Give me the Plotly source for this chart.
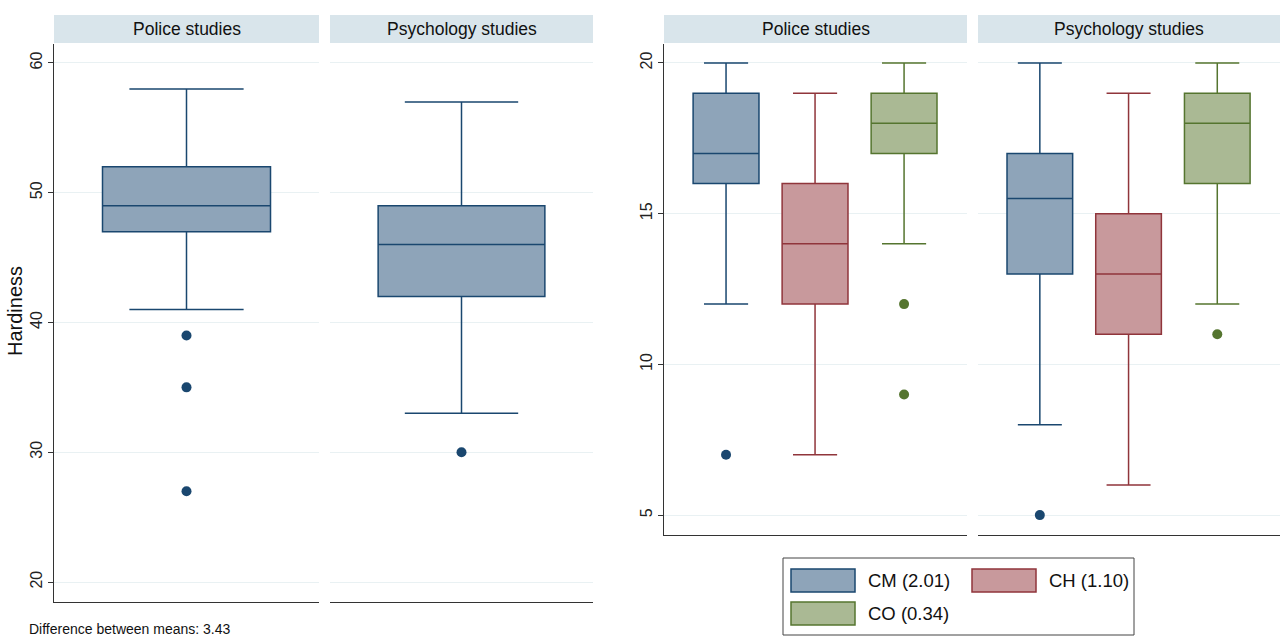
import plotly.graph_objects as go

# ---------------- data ----------------
panels = ["Police studies", "Psychology studies"]

# Left: Hardiness by study type
hard_q1 = [47, 42]
hard_med = [49, 46]
hard_q3 = [52, 49]
hard_lo = [41, 33]
hard_hi = [58, 57]
hard_out = [[39, 35, 27], [30]]

# Right: CM / CH / CO by study type
groups = ["CM", "CH", "CO"]
group_labels = ["CM (2.01)", "CH (1.10)", "CO (0.34)"]
sub_q1 = {"CM": [16, 13], "CH": [12, 11], "CO": [17, 16]}
sub_med = {"CM": [17, 15.5], "CH": [14, 13], "CO": [18, 18]}
sub_q3 = {"CM": [19, 17], "CH": [16, 15], "CO": [19, 19]}
sub_lo = {"CM": [12, 8], "CH": [7, 6], "CO": [14, 12]}
sub_hi = {"CM": [20, 20], "CH": [19, 19], "CO": [20, 20]}
sub_out = {"CM": [[7], [5]], "CH": [[], []], "CO": [[12, 9], [11]]}

note_text = "Difference between means: 3.43"
y_title = "Hardiness"
left_ticks = [20, 30, 40, 50, 60]
right_ticks = [5, 10, 15, 20]

# ---------------- style ----------------
W, H = 1280, 637
line_col = {"CM": "#1a476f", "CH": "#90353b", "CO": "#55752f"}
fill_col = {"CM": "#8ea4b9", "CH": "#c8999c", "CO": "#aab994"}
strip_bg = "#d9e5eb"
grid_col = "#e9f1f3"
axis_col = "#333333"
narrow = "Liberation Sans Narrow, Arial Narrow, Liberation Sans, Arial"
reg = "Liberation Sans, Arial, Helvetica"

def px(x):
    return x / W

def py(y):
    return 1 - y / H

fig = go.Figure()

left_axes = [("x", "y"), ("x2", "y2")]
right_axes = [("x3", "y3"), ("x4", "y4")]

for i, (xa, ya) in enumerate(left_axes):
    fig.add_trace(go.Box(
        x=[0], q1=[hard_q1[i]], median=[hard_med[i]], q3=[hard_q3[i]],
        lowerfence=[hard_lo[i]], upperfence=[hard_hi[i]],
        width=0.634, whiskerwidth=0.68,
        fillcolor=fill_col["CM"], line=dict(color=line_col["CM"], width=1.5),
        boxpoints=False, showlegend=False, xaxis=xa, yaxis=ya, hoverinfo="skip"))
    fig.add_trace(go.Scatter(
        x=[0] * len(hard_out[i]), y=hard_out[i], mode="markers",
        marker=dict(color=line_col["CM"], size=10), showlegend=False,
        xaxis=xa, yaxis=ya))

for i, (xa, ya) in enumerate(right_axes):
    for j, g in enumerate(groups):
        pos = j + 1
        fig.add_trace(go.Box(
            x=[pos], q1=[sub_q1[g][i]], median=[sub_med[g][i]], q3=[sub_q3[g][i]],
            lowerfence=[sub_lo[g][i]], upperfence=[sub_hi[g][i]],
            width=0.74, whiskerwidth=0.67,
            fillcolor=fill_col[g], line=dict(color=line_col[g], width=1.5),
            boxpoints=False, showlegend=False, xaxis=xa, yaxis=ya, hoverinfo="skip"))
        if sub_out[g][i]:
            fig.add_trace(go.Scatter(
                x=[pos] * len(sub_out[g][i]), y=sub_out[g][i], mode="markers",
                marker=dict(color=line_col[g], size=10), showlegend=False,
                xaxis=xa, yaxis=ya))

left_x = [(54, 319), (330, 593)]
right_x = [(664, 967), (978, 1280)]
left_y = (44, 602)
right_y = (44, 535)

ycommon = dict(showgrid=True, gridcolor=grid_col, gridwidth=1, zeroline=False,
               tickangle=-90, ticklen=5, tickcolor=axis_col,
               tickfont=dict(family=reg, size=16, color="#222"))
xcommon = dict(showgrid=False, zeroline=False, showticklabels=False, showline=True,
               linecolor=axis_col, linewidth=1, ticks="", fixedrange=True)

fig.update_layout(
    width=W, height=H, margin=dict(l=0, r=0, t=0, b=0),
    plot_bgcolor="white", paper_bgcolor="white", boxmode="overlay",
    showlegend=False,
    xaxis=dict(domain=[px(left_x[0][0]), px(left_x[0][1])], range=[-0.5, 0.5], anchor="y", **xcommon),
    xaxis2=dict(domain=[px(left_x[1][0]), px(left_x[1][1])], range=[-0.5, 0.5], anchor="y2", **xcommon),
    xaxis3=dict(domain=[px(right_x[0][0]), px(right_x[0][1])], range=[0.303, 3.707], anchor="y3", **xcommon),
    xaxis4=dict(domain=[px(right_x[1][0]), px(right_x[1][1])], range=[0.303, 3.707], anchor="y4", **xcommon),
    yaxis=dict(domain=[py(left_y[1]), py(left_y[0])], range=[18.46, 61.46], anchor="x",
               tickvals=left_ticks, showline=True, linecolor=axis_col, linewidth=1, ticks="outside",
               **ycommon),
    yaxis2=dict(domain=[py(left_y[1]), py(left_y[0])], range=[18.46, 61.46], anchor="x2",
                tickvals=left_ticks, showline=False, showticklabels=False, ticks="", **ycommon),
    yaxis3=dict(domain=[py(right_y[1]), py(right_y[0])], range=[4.34, 20.63], anchor="x3",
                tickvals=right_ticks, showline=True, linecolor=axis_col, linewidth=1, ticks="outside",
                **ycommon),
    yaxis4=dict(domain=[py(right_y[1]), py(right_y[0])], range=[4.34, 20.63], anchor="x4",
                tickvals=right_ticks, showline=False, showticklabels=False, ticks="", **ycommon),
)

shapes = []
annotations = []
for (x0, x1), title in zip(left_x + right_x, panels + panels):
    shapes.append(dict(type="rect", xref="paper", yref="paper", x0=px(x0), x1=px(x1),
                       y0=py(43), y1=py(15), fillcolor=strip_bg, line=dict(width=0), layer="below"))
    annotations.append(dict(text=title, xref="paper", yref="paper", x=px((x0 + x1) / 2), y=py(29),
                            xanchor="center", yanchor="middle", showarrow=False,
                            font=dict(family=narrow, size=17.5, color="#111")))

# y-axis title of the left graph
annotations.append(dict(text=y_title, xref="paper", yref="paper", x=px(15), y=py(311),
                        xanchor="center", yanchor="middle", textangle=-90, showarrow=False,
                        font=dict(family=reg, size=20, color="#111")))

annotations.append(dict(text=note_text, xref="paper", yref="paper", x=px(27), y=py(629),
                        xanchor="left", yanchor="middle", showarrow=False,
                        font=dict(family=narrow, size=14, color="#111")))

shapes.append(dict(type="rect", xref="paper", yref="paper", x0=px(783), x1=px(1134),
                   y0=py(635), y1=py(558), line=dict(color="#444", width=1), fillcolor="white"))
leg_pos = [(791, 569), (972, 569), (791, 602)]
for g, lab, (lx, ly) in zip(groups, group_labels, leg_pos):
    shapes.append(dict(type="rect", xref="paper", yref="paper", x0=px(lx), x1=px(lx + 64),
                       y0=py(ly + 23), y1=py(ly), fillcolor=fill_col[g],
                       line=dict(color=line_col[g], width=1.5)))
    annotations.append(dict(text=lab, xref="paper", yref="paper", x=px(lx + 75), y=py(ly + 11.5),
                            xanchor="left", yanchor="middle", showarrow=False,
                            font=dict(family=narrow, size=18.5, color="#111")))

fig.update_layout(shapes=shapes, annotations=annotations)
fig.write_html("out.html", config={"displayModeBar": False},
               post_script="document.body.style.margin='0';document.body.style.padding='0';")
